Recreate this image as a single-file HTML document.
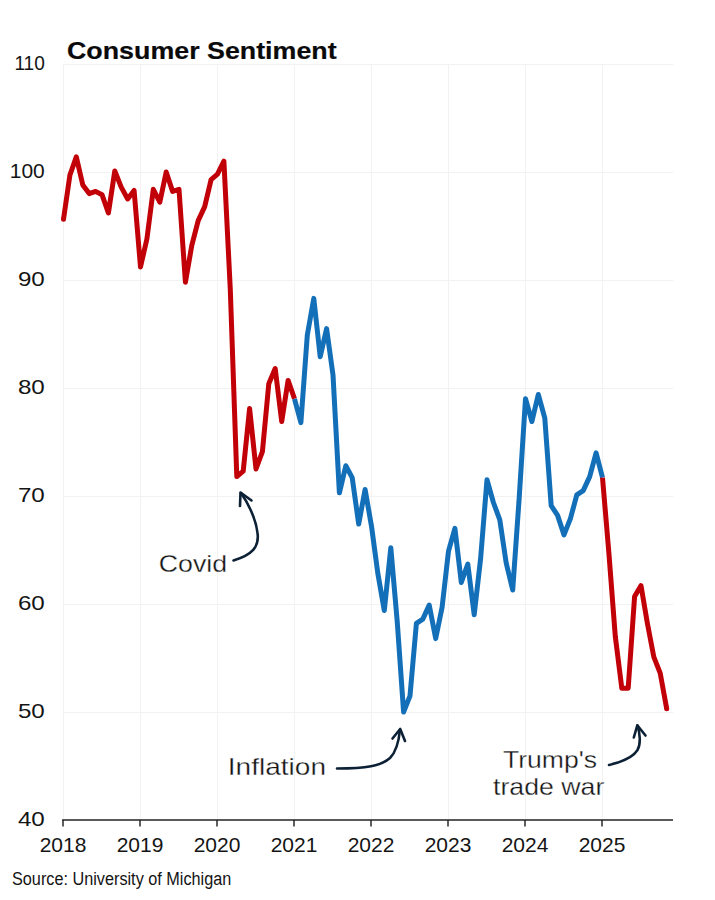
<!DOCTYPE html>
<html><head><meta charset="utf-8"><style>
html,body{margin:0;padding:0;background:#fff;}
body{width:715px;height:900px;overflow:hidden;position:relative;font-family:"Liberation Sans",sans-serif;}
svg{position:absolute;left:0;top:0;}
</style></head><body>
<svg width="715" height="900" viewBox="0 0 715 900" font-family="Liberation Sans, sans-serif">
<g stroke="#f2f2f2" stroke-width="1"><line x1="63" y1="712.5" x2="673" y2="712.5"/><line x1="63" y1="604.5" x2="673" y2="604.5"/><line x1="63" y1="496.5" x2="673" y2="496.5"/><line x1="63" y1="388.5" x2="673" y2="388.5"/><line x1="63" y1="280.5" x2="673" y2="280.5"/><line x1="63" y1="172.5" x2="673" y2="172.5"/><line x1="63" y1="64.5" x2="673" y2="64.5"/><line x1="63.5" y1="64" x2="63.5" y2="820"/><line x1="140.5" y1="64" x2="140.5" y2="820"/><line x1="217.5" y1="64" x2="217.5" y2="820"/><line x1="294.5" y1="64" x2="294.5" y2="820"/><line x1="371.5" y1="64" x2="371.5" y2="820"/><line x1="448.5" y1="64" x2="448.5" y2="820"/><line x1="525.5" y1="64" x2="525.5" y2="820"/><line x1="602.5" y1="64" x2="602.5" y2="820"/></g>
<g stroke="#222" stroke-width="1.45"><line x1="63" y1="820" x2="63" y2="826.5"/><line x1="140" y1="820" x2="140" y2="826.5"/><line x1="217" y1="820" x2="217" y2="826.5"/><line x1="294" y1="820" x2="294" y2="826.5"/><line x1="371" y1="820" x2="371" y2="826.5"/><line x1="448" y1="820" x2="448" y2="826.5"/><line x1="525" y1="820" x2="525" y2="826.5"/><line x1="602" y1="820" x2="602" y2="826.5"/><line x1="62.2" y1="820" x2="673" y2="820"/></g>
<text x="67" y="59" font-size="24.5" textLength="269.6" lengthAdjust="spacingAndGlyphs" font-weight="bold" fill="#0a0a0a" stroke="#0a0a0a" stroke-width="0.2">Consumer Sentiment</text>
<text x="44.8" y="826.0" font-size="21" text-anchor="end" textLength="26.9" lengthAdjust="spacingAndGlyphs" fill="#141414">40</text><text x="44.8" y="718.0" font-size="21" text-anchor="end" textLength="26.9" lengthAdjust="spacingAndGlyphs" fill="#141414">50</text><text x="44.8" y="610.0" font-size="21" text-anchor="end" textLength="26.9" lengthAdjust="spacingAndGlyphs" fill="#141414">60</text><text x="44.8" y="502.0" font-size="21" text-anchor="end" textLength="26.9" lengthAdjust="spacingAndGlyphs" fill="#141414">70</text><text x="44.8" y="394.0" font-size="21" text-anchor="end" textLength="26.9" lengthAdjust="spacingAndGlyphs" fill="#141414">80</text><text x="44.8" y="286.0" font-size="21" text-anchor="end" textLength="26.9" lengthAdjust="spacingAndGlyphs" fill="#141414">90</text><text x="44.8" y="178.0" font-size="21" text-anchor="end" textLength="35.0" lengthAdjust="spacingAndGlyphs" fill="#141414">100</text><text x="44.8" y="70.0" font-size="21" text-anchor="end" textLength="30.4" lengthAdjust="spacingAndGlyphs" fill="#141414">110</text><text x="63" y="851.7" font-size="21" text-anchor="middle" fill="#141414">2018</text><text x="140" y="851.7" font-size="21" text-anchor="middle" fill="#141414">2019</text><text x="217" y="851.7" font-size="21" text-anchor="middle" fill="#141414">2020</text><text x="294" y="851.7" font-size="21" text-anchor="middle" fill="#141414">2021</text><text x="371" y="851.7" font-size="21" text-anchor="middle" fill="#141414">2022</text><text x="448" y="851.7" font-size="21" text-anchor="middle" fill="#141414">2023</text><text x="525" y="851.7" font-size="21" text-anchor="middle" fill="#141414">2024</text><text x="602" y="851.7" font-size="21" text-anchor="middle" fill="#141414">2025</text>
<text x="12" y="885" font-size="18" textLength="219.3" lengthAdjust="spacingAndGlyphs" fill="#141414">Source: University of Michigan</text>
<g fill="none" stroke-width="5" stroke-linejoin="round" stroke-linecap="butt">
<path d="M63.5,219.3 L69.9,175.2 L76.3,156.9 L82.8,185.0 L89.2,193.6 L95.6,191.4 L102.0,194.7 L108.4,213.0 L114.8,170.9 L121.2,187.1 L127.7,199.0 L134.1,190.4 L140.5,267.0 L146.9,239.0 L153.3,189.3 L159.8,202.2 L166.2,172.0 L172.6,191.4 L179.0,189.3 L185.4,282.2 L191.8,245.4 L198.2,220.6 L204.7,206.6 L211.1,179.6 L217.5,174.2 L223.9,161.2 L230.3,289.7 L236.8,476.6 L243.2,471.2 L249.6,408.5 L256.0,469.0 L262.4,451.7 L268.8,383.7 L275.2,368.6 L281.7,421.5 L288.1,380.4 L294.5,398.8" stroke="#c20008"/>
<path d="M294.5,398.8 L300.9,422.6 L307.3,335.1 L313.8,298.4 L320.2,356.7 L326.6,328.6 L333.0,375.0 L339.4,492.8 L345.8,465.8 L352.2,477.6 L358.7,524.1 L365.1,489.5 L371.5,526.2 L377.9,573.8 L384.3,610.5 L390.8,547.8 L397.2,621.3 L403.6,712.0 L410.0,695.8 L416.4,623.4 L422.8,619.1 L429.2,605.1 L435.7,638.6 L442.1,607.2 L448.5,551.1 L454.9,528.4 L461.3,582.4 L467.8,564.0 L474.2,614.8 L480.6,558.6 L487.0,479.8 L493.4,502.5 L499.8,519.8 L506.2,563.0 L512.7,590.0 L519.1,499.2 L525.5,398.8 L531.9,421.5 L538.3,394.5 L544.8,418.2 L551.2,505.7 L557.6,515.4 L564.0,534.9 L570.4,518.7 L576.8,494.9 L583.2,490.6 L589.7,476.6 L596.1,452.8 L602.5,477.6" stroke="#146fb9"/>
<path d="M602.5,477.6 L608.9,553.2 L615.3,636.4 L621.8,688.2 L628.2,688.2 L634.6,596.4 L641.0,585.6 L647.4,623.4 L653.8,656.9 L660.2,673.1 L666.7,708.8" stroke="#c20008"/>
</g>
<g fill="#c20008"><circle cx="63.5" cy="219.3" r="2.5"/><circle cx="666.7" cy="708.8" r="2.5"/></g>
<text x="158.8" y="571.5" font-size="24" textLength="68.4" lengthAdjust="spacingAndGlyphs" fill="#141414" stroke="#fff" stroke-width="0.3">Covid</text>
<text x="227.8" y="775" font-size="24" textLength="98.2" lengthAdjust="spacingAndGlyphs" fill="#141414" stroke="#fff" stroke-width="0.3">Inflation</text>
<text x="503" y="767.5" font-size="24" textLength="94.1" lengthAdjust="spacingAndGlyphs" fill="#141414" stroke="#fff" stroke-width="0.3">Trump's</text>
<text x="493" y="795" font-size="24" textLength="111.3" lengthAdjust="spacingAndGlyphs" fill="#141414" stroke="#fff" stroke-width="0.3">trade war</text>
<g fill="none" stroke="#0d2136" stroke-width="2.6" stroke-linecap="round" stroke-linejoin="round">
<path d='M233.5,560.5 C252,555 259.5,547 257.5,533 C256,519 248,503 241,493'/><path d='M240,506 L240.5,492.5 L251.5,500.5'/><path d='M337,768.5 C366,768.5 381,766 390,758 C397,751 399,740 400,729.5'/><path d='M392.5,738.5 L400.2,729 L405,741'/><path d='M609,765 C622,762 633,757 637.5,750 C641,744 640,733 637.5,725.5'/><path d='M633.8,737.5 L637.3,725.3 L645.5,735.5'/>
</g>
</svg>
</body></html>
